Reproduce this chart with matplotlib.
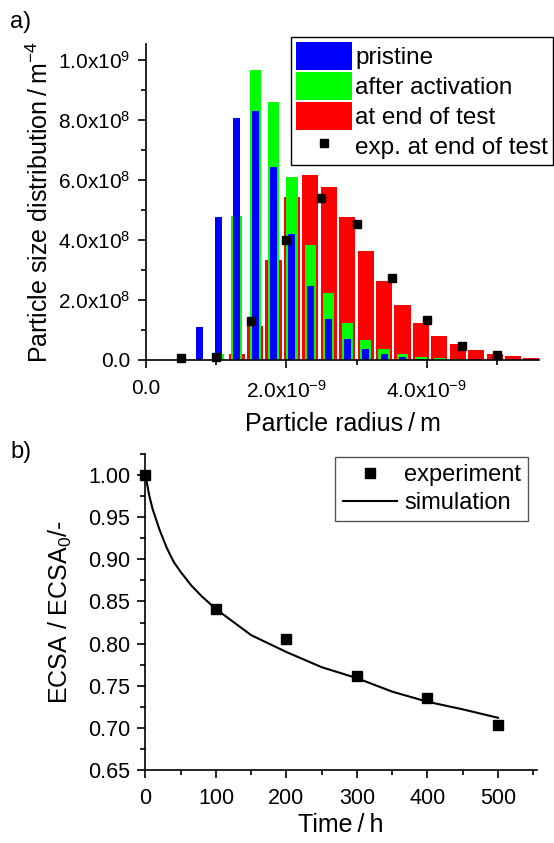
#!/usr/bin/env python3
"""Particle size distribution and ECSA loss, two stacked panels."""

import matplotlib

matplotlib.use('Agg')
import matplotlib.pyplot as plt
from matplotlib.ticker import FixedLocator, FuncFormatter

plt.rcParams['font.family'] = ['Liberation Sans', 'DejaVu Sans']
plt.rcParams['mathtext.default'] = 'regular'

# Panel a: bin centres (1e-9 m) and distributions (1e8 m^-4)
radius_bins = [0.767, 1.030, 1.292, 1.555, 1.817, 2.080, 2.342, 2.605, 2.867, 3.130,
               3.392, 3.655, 3.917, 4.180, 4.442, 4.705, 4.967, 5.230, 5.492]
pristine = [1.09, 4.78, 8.08, 8.30, 6.43, 4.20, 2.47, 1.36, 0.71, 0.37,
            0.19, 0.10, 0.04, 0.01, 0.0, 0.0, 0.0, 0.0, 0.0]
activated = [0.0, 0.20, 4.81, 9.67, 8.61, 6.10, 3.82, 2.22, 1.24, 0.67,
             0.36, 0.19, 0.10, 0.055, 0.02, 0.0, 0.0, 0.0, 0.0]
end_of_test = [0.0, 0.0, 0.19, 1.13, 3.33, 5.42, 6.18, 5.77, 4.77, 3.64,
               2.63, 1.82, 1.22, 0.81, 0.52, 0.32, 0.20, 0.12, 0.08]
exp_radius = [0.5, 1.0, 1.5, 2.0, 2.5, 3.0, 3.5, 4.0, 4.5, 5.0]
exp_psd = [0.05, 0.09, 1.30, 4.00, 5.39, 4.53, 2.74, 1.32, 0.47, 0.18]

# Panel b: ECSA over time
exp_time = [0, 100, 200, 300, 400, 500]
exp_ecsa = [1.000, 0.841, 0.805, 0.762, 0.735, 0.703]
sim_time = [0, 5, 10, 20, 30, 40, 50, 65, 80, 100, 150, 200, 250, 300, 350, 400, 450, 500]
sim_ecsa = [1.000, 0.977, 0.960, 0.935, 0.914, 0.897, 0.885, 0.869, 0.856, 0.841,
            0.810, 0.790, 0.772, 0.759, 0.743, 0.731, 0.722, 0.712]

# tick positions
psd_xticks = [0.0, 2e-9, 4e-9]
psd_xminor = [1e-9, 3e-9, 5e-9]
psd_yticks = [0.0, 2e8, 4e8, 6e8, 8e8, 1e9]
psd_yminor = [1e8, 3e8, 5e8, 7e8, 9e8]
time_ticks = [0, 100, 200, 300, 400, 500]
time_minor = [50, 150, 250, 350, 450, 550]
ecsa_ticks = [0.65, 0.70, 0.75, 0.80, 0.85, 0.90, 0.95, 1.00]
ecsa_minor = [0.675, 0.725, 0.775, 0.825, 0.875, 0.925, 0.975, 1.025]


def sci_label(v, _pos):
    if abs(v) < 1e-30:
        return '0.0'
    exp = int(f'{v:e}'.split('e')[1])
    mant = v / 10 ** exp
    return f'{mant:.1f}x10$^{{{exp}}}$'


def style_axes(ax):
    for side in ('top', 'right'):
        ax.spines[side].set_visible(False)
    for side in ('left', 'bottom'):
        ax.spines[side].set_linewidth(1.2)
    ax.tick_params(which='major', direction='out', length=6, width=1.2, pad=5)
    ax.tick_params(which='minor', direction='out', length=3.5, width=1.2)


fig = plt.figure(figsize=(5.54, 8.43), dpi=100)

# ---- panel a ----
ax1 = fig.add_axes([0.2635, 0.573, 0.7095, 0.3745])
x = [r * 1e-9 for r in radius_bins]
b_end = ax1.bar(x, [v * 1e8 for v in end_of_test], width=0.23e-9, color='#ff0000')
b_act = ax1.bar(x, [v * 1e8 for v in activated], width=0.16e-9, color='#00ff00')
b_pri = ax1.bar(x, [v * 1e8 for v in pristine], width=0.10e-9, color='#0000ff')
m_exp, = ax1.plot([r * 1e-9 for r in exp_radius], [v * 1e8 for v in exp_psd], 's',
                  color='black', markersize=6, clip_on=False)
ax1.set_xlim(0, 5.6e-9)
ax1.set_ylim(0, 1.053e9)
ax1.xaxis.set_major_locator(FixedLocator(psd_xticks))
ax1.xaxis.set_minor_locator(FixedLocator(psd_xminor))
ax1.yaxis.set_major_locator(FixedLocator(psd_yticks))
ax1.yaxis.set_minor_locator(FixedLocator(psd_yminor))
ax1.xaxis.set_major_formatter(FuncFormatter(sci_label))
ax1.yaxis.set_major_formatter(FuncFormatter(sci_label))
style_axes(ax1)
ax1.tick_params(labelsize=15)
ax1.tick_params(axis='x', which='major', pad=8)
ax1.set_xlabel('Particle radius\u2009/\u2009m', fontsize=18, labelpad=8)
ax1.set_ylabel('Particle size distribution\u2009/\u2009m$^{-4}$', fontsize=18, labelpad=4)

leg1 = ax1.legend([b_pri, b_act, b_end, m_exp],
                  ['pristine', 'after activation', 'at end of test', 'exp. at end of test'],
                  loc='upper right', bbox_to_anchor=(553 / 554, 1 - 37 / 843),
                  bbox_transform=fig.transFigure, fontsize=17.5, frameon=True,
                  fancybox=False, edgecolor='black', framealpha=1, borderaxespad=0,
                  handlelength=2.3, handleheight=1.4, labelspacing=0.08,
                  handletextpad=0.15, borderpad=0.2, markerscale=0.9)
leg1.get_frame().set_linewidth(1.0)

# ---- panel b ----
ax2 = fig.add_axes([0.2626, 0.0866, 0.7062, 0.3748])
l_sim, = ax2.plot(sim_time, sim_ecsa, '-', color='black', linewidth=1.5)
m_ecsa, = ax2.plot(exp_time, exp_ecsa, 's', color='black', markersize=7, clip_on=False)
ax2.set_xlim(0, 555)
ax2.set_ylim(0.65, 1.025)
ax2.xaxis.set_major_locator(FixedLocator(time_ticks))
ax2.xaxis.set_minor_locator(FixedLocator(time_minor))
ax2.yaxis.set_major_locator(FixedLocator(ecsa_ticks))
ax2.yaxis.set_minor_locator(FixedLocator(ecsa_minor))
ax2.yaxis.set_major_formatter(FuncFormatter(lambda v, p: f'{v:.2f}'))
style_axes(ax2)
ax2.tick_params(labelsize=15.5)
ax2.tick_params(axis='x', which='major', pad=7)
ax2.set_xlabel('Time\u2009/\u2009h', fontsize=18, labelpad=3)
ax2.set_ylabel('ECSA / ECSA$_0$/-', fontsize=18, labelpad=10)

leg2 = ax2.legend([m_ecsa, l_sim], ['experiment', 'simulation'], loc='upper right',
                  bbox_to_anchor=(528 / 554, 1 - 457 / 843), bbox_transform=fig.transFigure,
                  fontsize=17, frameon=True, fancybox=False, edgecolor='#555555',
                  framealpha=1, borderaxespad=0, handlelength=2.3, labelspacing=0.25,
                  handletextpad=0.3, borderpad=0.3)
leg2.get_frame().set_linewidth(1.0)

fig.text(10 / 554, 1 - 22 / 843, 'a)', fontsize=17, va='center', ha='left')
fig.text(10 / 554, 1 - 452 / 843, 'b)', fontsize=17, va='center', ha='left')

fig.savefig('out.png', dpi=100)
